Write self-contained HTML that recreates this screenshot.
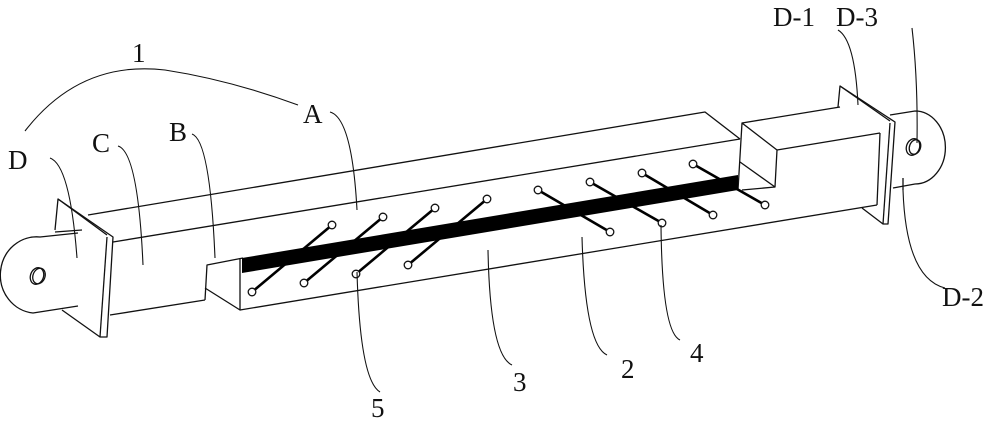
<!DOCTYPE html>
<html><head><meta charset="utf-8"><style>
html,body{margin:0;padding:0;background:#fff;}
svg{display:block;}
text{font-family:"Liberation Serif",serif;font-size:27px;fill:#111;}
</style></head><body>
<svg width="1000" height="422" viewBox="0 0 1000 422" xmlns="http://www.w3.org/2000/svg">
<g fill="none" stroke="#111" stroke-width="1.3" stroke-linejoin="round">
<!-- left lug -->
<path d="M78,233 L40,237 A36,38 0 0 0 33,313 L78,306"/>
<line x1="55" y1="232" x2="82" y2="230"/>
<ellipse cx="37" cy="276" rx="6.5" ry="8.5" transform="rotate(20 37 276)"/>
<ellipse cx="39" cy="276" rx="6" ry="8" transform="rotate(20 39 276)"/>
<!-- left plate -->
<path d="M55,230 L58,199 L113,237 L107,337 L100,337 L62,310"/>
<line x1="107" y1="237" x2="100" y2="337"/>
<line x1="58" y1="199" x2="107" y2="235"/>
<!-- tube top -->
<line x1="113" y1="242" x2="740" y2="139"/>
<path d="M88,215 L705,112 L740,139"/>
<line x1="110" y1="315" x2="205" y2="300"/>
<path d="M205,300 L207,265 L243,258"/>
<path d="M205,288 L240,310 L240,258"/>
<!-- tube bottom front edge -->
<line x1="240" y1="310" x2="877" y2="205"/>
<!-- right block -->
<path d="M738,190 L742,123 L777,150 L775,187 L740,162"/>
<line x1="742" y1="190" x2="775" y2="187"/>
<line x1="742" y1="123" x2="840" y2="107"/>
<line x1="777" y1="150" x2="880" y2="133"/>
<line x1="880" y1="133" x2="877" y2="205"/>
<!-- right plate -->
<path d="M838,107 L840,86 L895,122 L888,224 L883,224 L862,208"/>
<line x1="890" y1="123" x2="883" y2="224"/>
<line x1="840" y1="86" x2="890" y2="121"/>
<!-- right lug -->
<path d="M890,115 L915,111 A30,36 0 0 1 915,184 L893,188"/>
<line x1="903" y1="178" x2="903" y2="190"/>
<ellipse cx="913" cy="147" rx="6.5" ry="8.5" transform="rotate(20 913 147)"/>
<ellipse cx="915" cy="147" rx="5.5" ry="7.5" transform="rotate(20 915 147)"/>
</g>
<!-- black strip -->
<polygon points="242,258 738,175 738,190 242,273" fill="#000"/>
<!-- studs -->
<g stroke="#000" stroke-width="2.6">
<line x1="252" y1="292" x2="332" y2="225"/>
<line x1="304" y1="283" x2="383" y2="217"/>
<line x1="356" y1="274" x2="435" y2="208"/>
<line x1="408" y1="265" x2="487" y2="199"/>
<line x1="538" y1="190" x2="610" y2="232"/>
<line x1="590" y1="182" x2="662" y2="223"/>
<line x1="642" y1="173" x2="713" y2="215"/>
<line x1="693" y1="164" x2="765" y2="205"/>
</g>
<g fill="#fff" stroke="#111" stroke-width="1.3">
<circle cx="252" cy="292" r="3.8"/><circle cx="332" cy="225" r="3.8"/>
<circle cx="304" cy="283" r="3.8"/><circle cx="383" cy="217" r="3.8"/>
<circle cx="356" cy="274" r="3.8"/><circle cx="435" cy="208" r="3.8"/>
<circle cx="408" cy="265" r="3.8"/><circle cx="487" cy="199" r="3.8"/>
<circle cx="538" cy="190" r="3.8"/><circle cx="610" cy="232" r="3.8"/>
<circle cx="590" cy="182" r="3.8"/><circle cx="662" cy="223" r="3.8"/>
<circle cx="642" cy="173" r="3.8"/><circle cx="713" cy="215" r="3.8"/>
<circle cx="693" cy="164" r="3.8"/><circle cx="765" cy="205" r="3.8"/>
</g>
<!-- leaders -->
<g fill="none" stroke="#111" stroke-width="1.1">
<path d="M25,131 Q80,60 165,70 Q230,80 298,105"/>
<path d="M330,112 Q352,118 357,210"/>
<path d="M192,134 Q210,140 215,258"/>
<path d="M118,146 Q138,152 143,265"/>
<path d="M50,158 Q70,165 77,258"/>
<path d="M838,30 Q855,40 858,105"/>
<path d="M912,28 Q918,80 917,143"/>
<path d="M903,190 Q906,278 945,288"/>
<path d="M357,272 Q360,380 380,392"/>
<path d="M488,250 Q490,355 512,365"/>
<path d="M582,237 Q585,345 607,355"/>
<path d="M661,225 Q662,332 680,340"/>
</g>
<text x="132" y="62">1</text>
<text x="303" y="123">A</text>
<text x="169" y="141">B</text>
<text x="92" y="152">C</text>
<text x="8" y="169">D</text>
<text x="773" y="26">D-1</text>
<text x="836" y="26">D-3</text>
<text x="942" y="306">D-2</text>
<text x="371" y="417">5</text>
<text x="513" y="391">3</text>
<text x="621" y="378">2</text>
<text x="690" y="362">4</text>
</svg>
</body></html>
